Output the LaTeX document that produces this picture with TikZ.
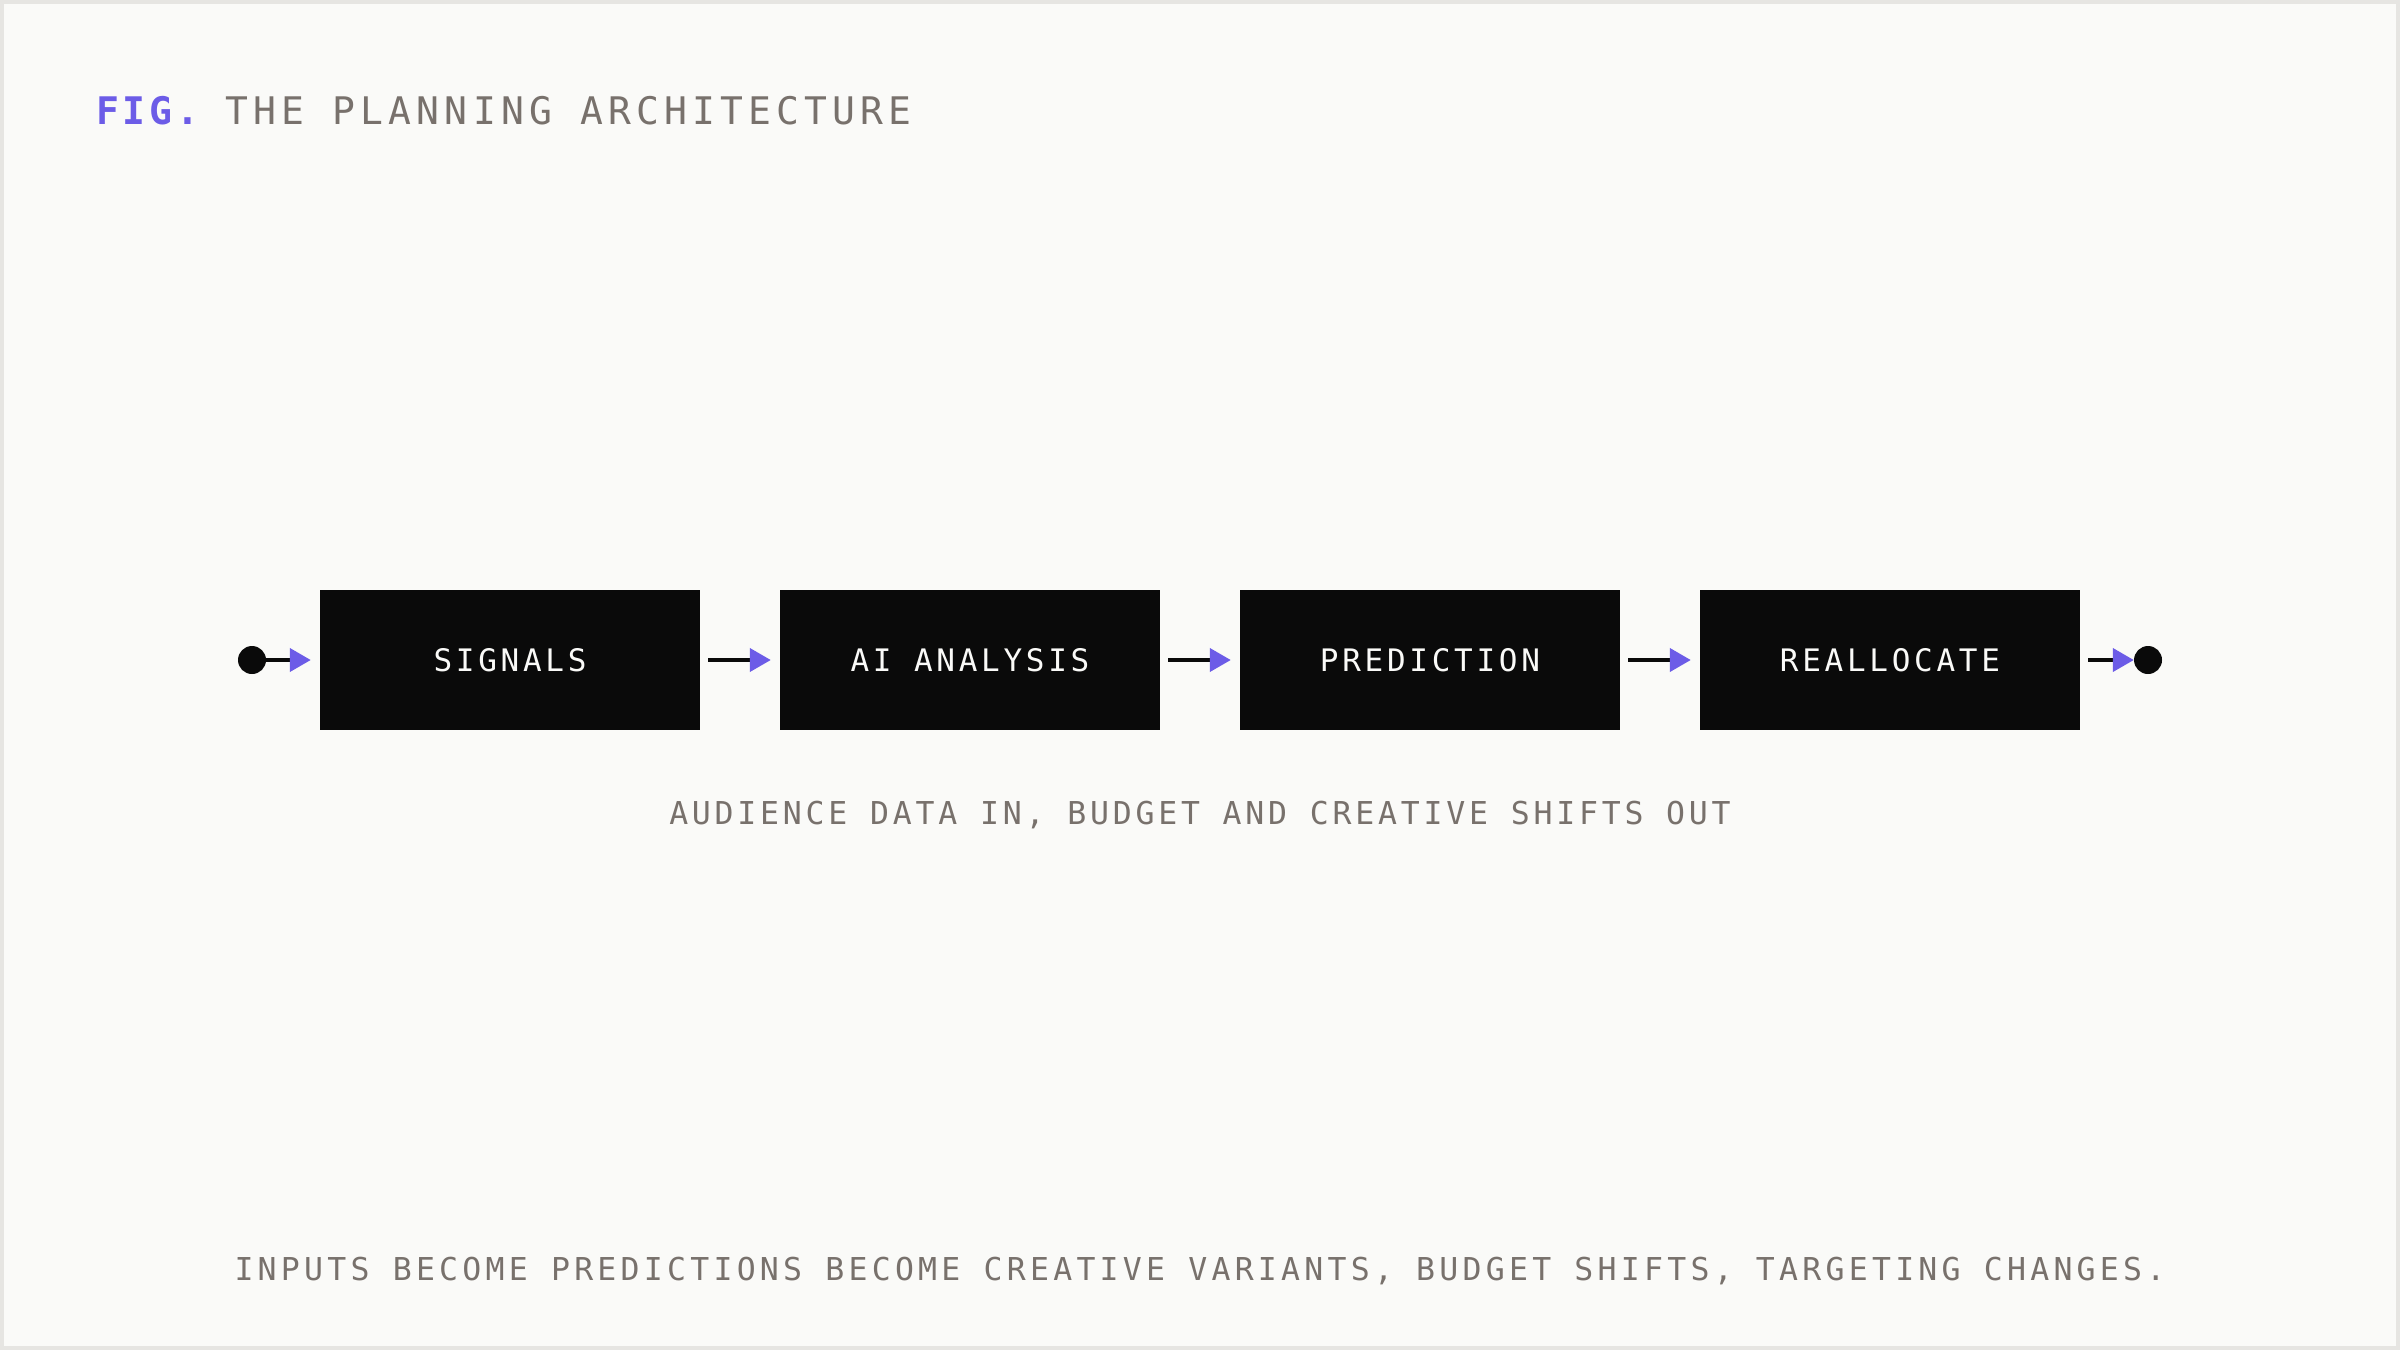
\documentclass[tikz,border=0pt]{standalone}
\usepackage{fontspec}
\usetikzlibrary{arrows.meta}
\newfontfamily\capfont{DejaVu Sans Mono}[LetterSpace=12]
\newfontfamily\footfont{DejaVu Sans Mono}[LetterSpace=13.5]
\newfontfamily\titlefont{DejaVu Sans Mono}[LetterSpace=10]
\newfontfamily\titlegray{DejaVu Sans Mono}[LetterSpace=13.6]
\definecolor{bg}{HTML}{FAFAF8}
\definecolor{frame}{HTML}{E6E5E2}
\definecolor{ink}{HTML}{0A0A0A}
\definecolor{accent}{HTML}{6C5CE7}
\definecolor{muted}{HTML}{78716C}
\begin{document}
\begin{tikzpicture}[x=1pt,y=-1pt,
  stepbox/.style={fill=ink, text=bg, minimum width=380pt, minimum height=140pt,
    inner sep=0pt, text height=22.7pt, text depth=0pt,
    font=\capfont\fontsize{31}{36}\selectfont},
  flow/.style={draw=ink, line width=4pt,
    -{Triangle[length=21pt,width=23pt,fill=accent,color=accent]}},
  enddot/.style={circle, fill=ink, minimum size=28pt, inner sep=0pt},
  caption/.style={anchor=base, inner sep=0pt, text=muted,
    font=\capfont\fontsize{31.5}{36}\selectfont}
]
\useasboundingbox (0,0) rectangle (2400,1350);
\fill[frame] (0,0) rectangle (2400,1350);
\fill[bg] (4,4) rectangle (2396,1346);

\node[anchor=base west, inner sep=0pt, font=\titlefont\fontsize{38}{44}\selectfont] (title) at (96,124)
  {{\color{accent}\bfseries FIG.}\ {\titlegray\color{muted}THE PLANNING ARCHITECTURE}};

\node[enddot] (start) at (252,660) {};
\node[stepbox] (sig) at (510,660) {SIGNALS};
\node[stepbox] (ana) at (970,660) {AI ANALYSIS};
\node[stepbox] (pre) at (1430,660) {PREDICTION};
\node[stepbox] (rea) at (1890,660) {REALLOCATE};
\node[enddot] (stop) at (2148,660) {};

\draw[flow, shorten >=9pt] (start) -- (sig);
\draw[flow, shorten <=8pt, shorten >=9pt] (sig) -- (ana);
\draw[flow, shorten <=8pt, shorten >=9pt] (ana) -- (pre);
\draw[flow, shorten <=8pt, shorten >=9pt] (pre) -- (rea);
\draw[flow, shorten <=8pt] (rea) -- (stop);

\node[caption] (mid) at (1200,824) {AUDIENCE DATA IN, BUDGET AND CREATIVE SHIFTS OUT};
\node[caption, font=\footfont\fontsize{31.5}{36}\selectfont] (foot) at (1200,1280) {INPUTS BECOME PREDICTIONS BECOME CREATIVE VARIANTS, BUDGET SHIFTS, TARGETING CHANGES.};
\end{tikzpicture}
\end{document}
